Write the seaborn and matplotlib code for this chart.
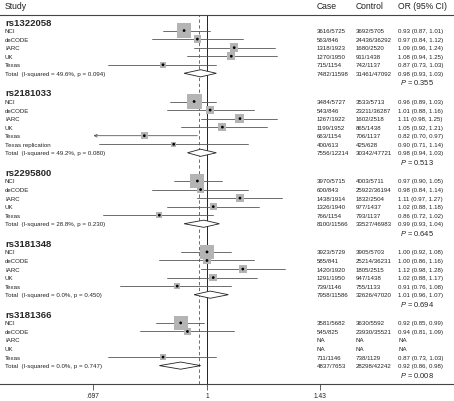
import numpy as np
import pandas as pd
import matplotlib
matplotlib.use('Agg')
import matplotlib.pyplot as plt
import seaborn as sns

# --- data ---
snps = ['rs1322058', 'rs2181033', 'rs2295800', 'rs3181348', 'rs3181366']
studies = [['NCI', 'deCODE', 'IARC', 'UK', 'Texas'],
           ['NCI', 'deCODE', 'IARC', 'UK', 'Texas', 'Texas replication'],
           ['NCI', 'deCODE', 'IARC', 'UK', 'Texas'],
           ['NCI', 'deCODE', 'IARC', 'UK', 'Texas'],
           ['NCI', 'deCODE', 'IARC', 'UK', 'Texas']]
cases = [['3616/5725', '563/846', '1318/1923', '1270/1950', '715/1154'],
         ['3484/5727', '543/846', '1267/1922', '1199/1952', '663/1154', '400/613'],
         ['3970/5715', '600/843', '1438/1914', '1326/1940', '766/1154'],
         ['3923/5729', '585/841', '1420/1920', '1291/1950', '739/1146'],
         ['3581/5682', '545/825', 'NA', 'NA', '711/1146']]
controls = [['3692/5705', '24436/36292', '1680/2520', '911/1438', '742/1137'],
            ['3533/5713', '23211/36287', '1602/2518', '865/1438', '706/1137', '425/628'],
            ['4003/5711', '25922/36194', '1832/2504', '977/1437', '793/1137'],
            ['3905/5703', '25214/36231', '1805/2515', '947/1438', '755/1133'],
            ['3630/5592', '23930/35521', 'NA', 'NA', '738/1129']]
ors = [[0.93, 0.97, 1.09, 1.08, 0.87],
       [0.96, 1.01, 1.11, 1.05, 0.82, 0.90],
       [0.97, 0.98, 1.11, 1.02, 0.86],
       [1.00, 1.00, 1.12, 1.02, 0.91],
       [0.92, 0.94, None, None, 0.87]]
lows = [[0.87, 0.84, 0.96, 0.94, 0.73],
        [0.89, 0.88, 0.98, 0.92, 0.70, 0.71],
        [0.90, 0.84, 0.97, 0.88, 0.72],
        [0.92, 0.86, 0.98, 0.88, 0.76],
        [0.85, 0.81, None, None, 0.73]]
highs = [[1.01, 1.12, 1.24, 1.25, 1.03],
         [1.03, 1.16, 1.25, 1.21, 0.97, 1.14],
         [1.05, 1.14, 1.27, 1.18, 1.02],
         [1.08, 1.16, 1.28, 1.17, 1.08],
         [0.99, 1.09, None, None, 1.03]]
tot_case = ['7482/11598', '7556/12214', '8100/11566', '7958/11586', '4837/7653']
tot_ctrl = ['31461/47092', '30342/47721', '33527/46983', '32626/47020', '28298/42242']
tot_or = [0.98, 0.98, 0.99, 1.01, 0.92]
tot_lo = [0.93, 0.94, 0.93, 0.96, 0.86]
tot_hi = [1.03, 1.03, 1.04, 1.07, 0.98]
i_sq = ['49.6%', '49.2%', '28.8%', '0.0%', '0.0%']
het_p = ['0.094', '0.080', '0.230', '0.450', '0.747']
p_vals = ['0.355', '0.513', '0.645', '0.694', '0.008']
overall = 0.975
x_ticks = [0.697, 1, 1.43]
x_ticklabels = ['.697', '1', '1.43']

sns.set_theme(style='white')
plt.rcParams['font.family'] = ['Liberation Sans', 'DejaVu Sans']
plt.rcParams['mathtext.fontset'] = 'custom'
plt.rcParams['mathtext.it'] = 'Liberation Sans:italic'
plt.rcParams['mathtext.rm'] = 'Liberation Sans'

# row layout
recs = []
blocks = []
y = 0.0
for k, snp in enumerate(snps):
    n = len(studies[k])
    blocks.append((y, y + n + 1, y + n + 2))
    for j in range(n):
        recs.append(dict(y=y + 1 + j, study=studies[k][j], case=cases[k][j], ctrl=controls[k][j],
                         OR=ors[k][j], lo=lows[k][j], hi=highs[k][j]))
    y = y + n + 1 + 2.3
df = pd.DataFrame(recs)
df['w'] = 1 / ((np.log(df['hi'].astype(float)) - np.log(df['lo'].astype(float))) / 3.92) ** 2

fig = plt.figure(figsize=(4.54, 4.02), dpi=100)
ax = fig.add_axes([0, 17 / 402, 1, 369 / 402])
ax.set_xscale('log')
ppl = 114 / np.log(1 / 0.697)
ax.set_xlim(np.exp(-207 / ppl), np.exp((454 - 207) / ppl))
ax.set_ylim(42.35, -0.82)

line_c = '#555555'
txt_c = '#222222'
ax.axvline(1, color='#222222', lw=0.7, zorder=1)
ax.axvline(overall, color=line_c, lw=0.6, ls=(0, (4, 3)), zorder=1)

tr = ax.get_yaxis_transform()
fs = 4.4
hfs = 6.2
x_study, x_case, x_ctrl, x_or = 0.011, 0.697, 0.783, 0.877

# CI lines
d = df.dropna(subset=['OR'])
for _, r in d.iterrows():
    if r['lo'] <= 0.70:
        ax.annotate('', xy=(0.698, r['y']), xytext=(r['hi'], r['y']),
                    arrowprops=dict(arrowstyle='->', lw=0.6, color=line_c, shrinkA=0, shrinkB=0,
                                    mutation_scale=5))
    else:
        ax.plot([r['lo'], r['hi']], [r['y'], r['y']], color=line_c, lw=0.6, zorder=2)

sns.scatterplot(data=d, x='OR', y='y', size='w', sizes=(0, 115), size_norm=(0, d['w'].max()),
                marker='s', color='#b4b4b4', edgecolor='none', linewidth=0, legend=False, ax=ax, zorder=3)
sns.scatterplot(data=d, x='OR', y='y', s=4, color='black', edgecolor='none', legend=False, ax=ax, zorder=4)

for _, r in df.iterrows():
    ax.text(x_study, r['y'], r['study'], transform=tr, fontsize=fs, va='center', color=txt_c)
    ax.text(x_case, r['y'], r['case'], transform=tr, fontsize=fs, va='center', color=txt_c)
    ax.text(x_ctrl, r['y'], r['ctrl'], transform=tr, fontsize=fs, va='center', color=txt_c)
    txt = 'NA' if pd.isna(r['OR']) else '%.2f (%.2f, %.2f)' % (r['OR'], r['lo'], r['hi'])
    ax.text(x_or, r['y'], txt, transform=tr, fontsize=fs, va='center', color=txt_c)

for k, (yh, yt, yp) in enumerate(blocks):
    ax.text(x_study, yh, snps[k], transform=tr, fontsize=6.8, fontweight='bold', va='center')
    ax.text(x_study, yt, 'Total  (I-squared = %s, p = %s)' % (i_sq[k], het_p[k]), transform=tr,
            fontsize=fs, va='center', color=txt_c)
    ax.fill([tot_lo[k], tot_or[k], tot_hi[k], tot_or[k]], [yt, yt - 0.42, yt, yt + 0.42],
            facecolor='white', edgecolor='#222222', lw=0.6, zorder=3)
    ax.text(x_case, yt, tot_case[k], transform=tr, fontsize=fs, va='center', color=txt_c)
    ax.text(x_ctrl, yt, tot_ctrl[k], transform=tr, fontsize=fs, va='center', color=txt_c)
    ax.text(x_or, yt, '%.2f (%.2f, %.2f)' % (tot_or[k], tot_lo[k], tot_hi[k]), transform=tr,
            fontsize=fs, va='center', color=txt_c)
    ax.text(x_or + 0.005, yp, '$P$ = ' + p_vals[k], transform=tr, fontsize=5.4, va='center', color=txt_c)

hy = -1.9
ax.text(x_study, hy, 'Study', transform=tr, fontsize=hfs, va='center', clip_on=False, color=txt_c)
ax.text(x_case, hy, 'Case', transform=tr, fontsize=hfs, va='center', clip_on=False, color=txt_c)
ax.text(x_ctrl, hy, 'Control', transform=tr, fontsize=hfs, va='center', clip_on=False, color=txt_c)
ax.text(x_or, hy, 'OR (95% CI)', transform=tr, fontsize=hfs, va='center', clip_on=False, color=txt_c)

for s in ['left', 'right']:
    ax.spines[s].set_visible(False)
for s in ['top', 'bottom']:
    ax.spines[s].set_color('#444444')
    ax.spines[s].set_linewidth(0.8)
ax.set_yticks([])
ax.set_xticks(x_ticks)
ax.set_xticklabels(x_ticklabels)
ax.minorticks_off()
ax.tick_params(axis='x', bottom=True, length=4, width=0.6, color='#444444', labelsize=4.8, pad=2,
               labelcolor=txt_c)
ax.set_xlabel('')
ax.set_ylabel('')

fig.savefig('out.png', dpi=100)
